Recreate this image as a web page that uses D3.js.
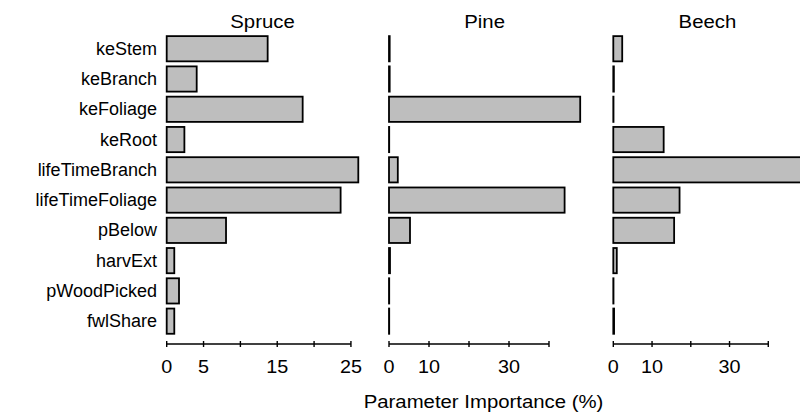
<!DOCTYPE html>
<html>
<head>
<meta charset="utf-8">
<script src="https://cdn.jsdelivr.net/npm/d3@7/dist/d3.min.js"></script>
<style>
  html, body { margin: 0; padding: 0; background: #fff; }
  svg { display: block; font-family: "Liberation Sans", Arial, sans-serif; }
</style>
</head>
<body>
<svg id="chart" width="800" height="414"></svg>
<script>
// Parameters (top to bottom)
const parameters = ["keStem", "keBranch", "keFoliage", "keRoot", "lifeTimeBranch",
  "lifeTimeFoliage", "pBelow", "harvExt", "pWoodPicked", "fwlShare"];

// Parameter importance (%) per species
const species = ["Spruce", "Pine", "Beech"];
const spruceValues = [13.7, 4.07, 18.45, 2.4, 26.0, 23.6, 8.05, 1.03, 1.67, 1.03];
const pineValues   = [0.17, 0.17, 47.8, 0.05, 2.2, 43.9, 5.25, 0.25, 0.05, 0.05];
const beechValues  = [2.3, 0.15, 0.05, 13.0, 48.6, 17.1, 15.7, 0.9, 0.05, 0.2];

// Axis ticks and the labels printed under them
const spruceTicks = [0, 5, 10, 15, 20, 25];
const spruceTickLabels = [0, 5, 15, 25];
const broadleafTicks = [0, 10, 20, 30, 40];
const broadleafTickLabels = [0, 10, 30];

const axisTitle = "Parameter Importance (%)";

const panels = [
  { name: species[0], values: spruceValues, ticks: spruceTicks, labels: spruceTickLabels, left: 166.7, width: 191.6 },
  { name: species[1], values: pineValues,   ticks: broadleafTicks, labels: broadleafTickLabels, left: 389, width: 191.2 },
  { name: species[2], values: beechValues,  ticks: broadleafTicks, labels: broadleafTickLabels, left: 613.3, width: 188.3 }
];

const svg = d3.select("#chart");
const axisY = 344;
const stretch = 1.1;   // slightly wide lettering

const y = d3.scaleBand()
  .domain(parameters)
  .range([33.6, 336.3])
  .paddingInner(0.2 / 1.2)
  .paddingOuter(0.1 / 1.2);

// Parameter names on the left
svg.append("g")
  .selectAll("text")
  .data(parameters)
  .join("text")
  .attr("x", 157)
  .attr("y", d => y(d) + y.bandwidth() / 2)
  .attr("text-anchor", "end")
  .attr("dominant-baseline", "central")
  .attr("font-size", 18)
  .attr("fill", "#000")
  .text(d => d);

panels.forEach(p => {
  const maxV = d3.max(p.values);
  const x = d3.scaleLinear().domain([0, maxV]).range([p.left, p.left + p.width]);
  const g = svg.append("g");

  // Bars
  g.selectAll("rect")
    .data(p.values.map((v, i) => ({ v, k: parameters[i] })))
    .join("rect")
    .attr("x", x(0))
    .attr("y", d => y(d.k))
    .attr("width", d => x(d.v) - x(0))
    .attr("height", y.bandwidth())
    .attr("fill", "#bebebe")
    .attr("stroke", "#000")
    .attr("stroke-width", 1.8);

  // Species title
  g.append("text")
    .attr("transform", `translate(${x(maxV / 2)},28) scale(${stretch},1)`)
    .attr("text-anchor", "middle")
    .attr("font-size", 18.5)
    .text(p.name);

  // Axis line and ticks
  const ticks = p.ticks;
  g.append("line")
    .attr("x1", x(ticks[0])).attr("x2", x(ticks[ticks.length - 1]))
    .attr("y1", axisY).attr("y2", axisY)
    .attr("stroke", "#000").attr("stroke-width", 1.6);
  g.selectAll(".tick")
    .data(ticks)
    .join("line")
    .attr("class", "tick")
    .attr("x1", d => x(d)).attr("x2", d => x(d))
    .attr("y1", axisY - 3).attr("y2", axisY + 3)
    .attr("stroke", "#000").attr("stroke-width", 1.4);
  g.selectAll(".tlab")
    .data(p.labels)
    .join("text")
    .attr("class", "tlab")
    .attr("transform", d => `translate(${x(d)},373) scale(${stretch},1)`)
    .attr("text-anchor", "middle")
    .attr("font-size", 18)
    .text(d => d);
});

svg.append("text")
  .attr("transform", `translate(483.5,408) scale(${stretch},1)`)
  .attr("text-anchor", "middle")
  .attr("font-size", 18.5)
  .text(axisTitle);
</script>
</body>
</html>
